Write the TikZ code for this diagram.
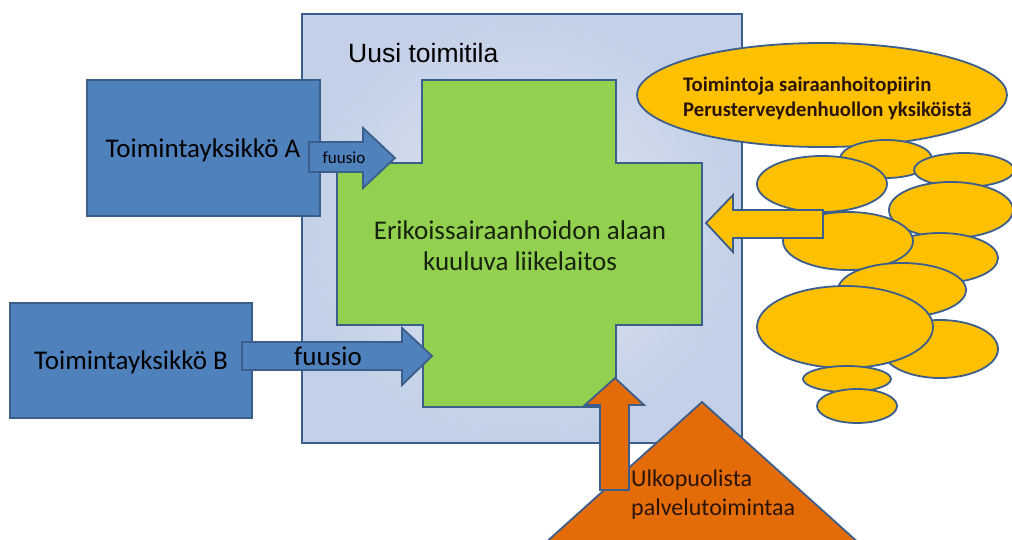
\documentclass[tikz,border=0pt]{standalone}
\usepackage{fontspec}
\setmainfont{Carlito}
\newfontfamily\arialf{Liberation Sans}
\usetikzlibrary{shapes.geometric}
\definecolor{edge}{HTML}{3C5E8C}
\definecolor{boxblue}{HTML}{4F81BD}
\definecolor{lightin}{HTML}{E2E8F3}
\definecolor{lightout}{HTML}{C3D0E7}
\definecolor{crossgreen}{HTML}{92D050}
\definecolor{ygold}{HTML}{FFC000}
\definecolor{orng}{HTML}{E36C09}
\definecolor{darktxt}{HTML}{2A1406}
\definecolor{greentxt}{HTML}{17230C}
\tikzset{
  shp/.style={draw=edge, line width=1.8pt, line join=miter},
  ell/.style={shp, fill=ygold, ellipse, inner sep=0pt},
  lbl/.style={inner sep=0pt, text=black, align=left},
}
\begin{document}
\begin{tikzpicture}[x=1pt,y=-1pt]
\useasboundingbox (0,0) rectangle (1012,539);
\begin{scope}
\clip (0,0) rectangle (1012,539);
% light blue space
\draw[shp, inner color=lightin, outer color=lightout] (302,14) rectangle (742,443);
\node[lbl, anchor=base west, font=\arialf\fontsize{26.5}{30}\selectfont] (uusi) at (348,62) {Uusi toimitila};
% unit boxes
\draw[shp, fill=boxblue] (87,80) rectangle (320,216);
\node[lbl, font=\fontsize{27}{32}\selectfont] (ya) at (203,150) {Toimintayksikkö A};
\draw[shp, fill=boxblue] (10,303) rectangle (252,418);
\node[lbl, font=\fontsize{27}{32}\selectfont] (yb) at (131,362) {Toimintayksikkö B};
% green cross
\draw[shp, fill=crossgreen] (422,80) -- (616,80) -- (616,163) -- (702,163) -- (702,325)
  -- (616,325) -- (616,407) -- (423,407) -- (423,325) -- (337,325) -- (337,163) -- (422,163) -- cycle;
\node[lbl, align=center, text=greentxt, font=\fontsize{27}{31}\selectfont] (liik) at (520,246) {Erikoissairaanhoidon alaan\\kuuluva liikelaitos};
% fusion arrows
\draw[shp, fill=boxblue] (309,142) -- (363,142) -- (363,128) -- (395,158) -- (363,188) -- (363,172) -- (309,172) -- cycle;
\node[lbl, font=\fontsize{17}{19}\selectfont] (fa) at (344,158) {fuusio};
\draw[shp, fill=boxblue] (242,342) -- (402,342) -- (402,328) -- (432,356) -- (402,385) -- (402,370) -- (242,370) -- cycle;
\node[lbl, font=\fontsize{27}{30}\selectfont] (fb) at (328,356) {fuusio};
% yellow cluster
\node[ell, minimum width=370pt, minimum height=104pt] (top) at (822,95) {};
\node[ell, minimum width=92pt, minimum height=38pt] (e1) at (886,159) {};
\node[ell, minimum width=100pt, minimum height=34pt] (e2) at (964,170) {};
\node[ell, minimum width=130pt, minimum height=56pt] (e3) at (822,184) {};
\node[ell, minimum width=124pt, minimum height=56pt] (e4) at (951,210) {};
\node[ell, minimum width=116pt, minimum height=50pt] (e6) at (940,258) {};
\node[ell, minimum width=130pt, minimum height=58pt] (e5) at (848,241) {};
\node[ell, minimum width=116pt, minimum height=58pt] (e9) at (940,349) {};
\node[ell, minimum width=128pt, minimum height=54pt] (e7) at (902,290) {};
\node[ell, minimum width=176pt, minimum height=82pt] (e8) at (845,327) {};
\node[ell, minimum width=88pt, minimum height=26pt] (e10) at (847,379) {};
\node[ell, minimum width=80pt, minimum height=34pt] (e11) at (857,406) {};
\node[lbl, font=\bfseries\fontsize{20.7}{25}\selectfont, anchor=west, text=darktxt] (toim) at (683,98) {Toimintoja sairaanhoitopiirin\\Perusterveydenhuollon yksiköistä};
\draw[shp, fill=ygold] (823,210) -- (733,210) -- (733,195) -- (706,223) -- (733,252) -- (733,238) -- (823,238) -- cycle;
% orange
\draw[shp, fill=orng] (702,402) -- (950,625) -- (454,625) -- cycle;
\draw[shp, fill=orng] (600,490) -- (600,405) -- (585,405) -- (615,378) -- (644,405) -- (629,405) -- (629,490) -- cycle;
\node[lbl, font=\fontsize{24}{29}\selectfont, anchor=north west, text=darktxt] (ulko) at (631,470) {Ulkopuolista\\palvelutoimintaa};
\end{scope}
\end{tikzpicture}
\end{document}
